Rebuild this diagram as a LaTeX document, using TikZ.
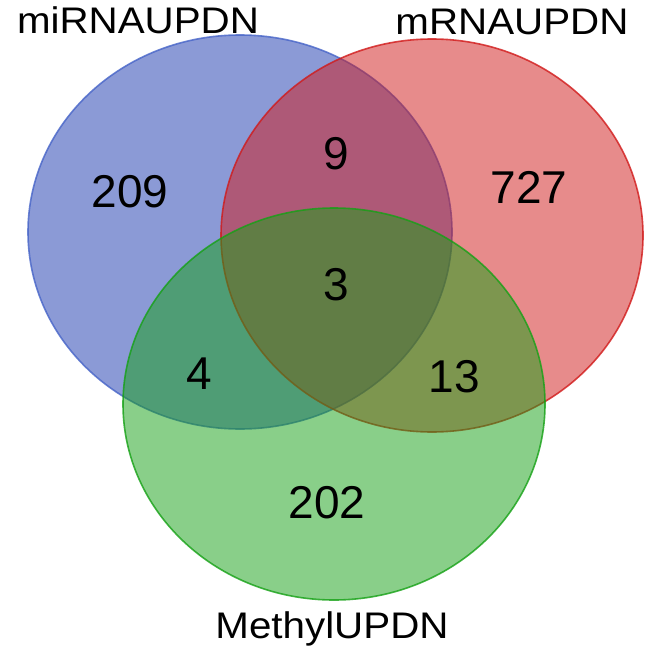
\documentclass[tikz,border=0pt]{standalone}
\usepackage{fontspec}
\setmainfont{Liberation Sans}
\newfontfamily\labfont[FakeStretch=1.09]{Liberation Sans}
\definecolor{vblue}{RGB}{25,55,175}
\definecolor{vred}{RGB}{209,25,25}
\definecolor{vgreen}{RGB}{21,161,21}
\definecolor{vbluestroke}{RGB}{70,100,200}
\tikzset{
  setshape/.style={line width=1.6pt, fill opacity=0.5, draw opacity=0.8},
  setlabel/.style={inner sep=0pt, anchor=base, font=\labfont\fontsize{37}{37}\selectfont},
  count/.style={inner sep=0pt, anchor=base, font=\fontsize{46}{46}\selectfont}
}
\begin{document}
\begin{tikzpicture}[x=1pt,y=-1pt]
\useasboundingbox (0,0) rectangle (653,655);
\fill[white] (0,0) rectangle (653,655);
\path[setshape, draw=vbluestroke, fill=vblue] (240,232) ellipse [x radius=212, y radius=197];
\path[setshape, draw=vred, fill=vred] (432,235.5) ellipse [x radius=211, y radius=196.5];
\path[setshape, draw=vgreen, fill=vgreen] (334,404) ellipse [x radius=211, y radius=196];
\node[setlabel] (lmi) at (138,34) {miRNAUPDN};
\node[setlabel] (lm) at (512,35) {mRNAUPDN};
\node[setlabel] (lme) at (332,638) {MethylUPDN};
\node[count] (n209) at (130,207) {209};
\node[count] (n9) at (336,170) {9};
\node[count] (n727) at (529,203) {727};
\node[count] (n3) at (336,300) {3};
\node[count] (n4) at (199,389) {4};
\node[count] (n13) at (454,392) {13};
\node[count] (n202) at (327,518) {202};
\end{tikzpicture}
\end{document}
